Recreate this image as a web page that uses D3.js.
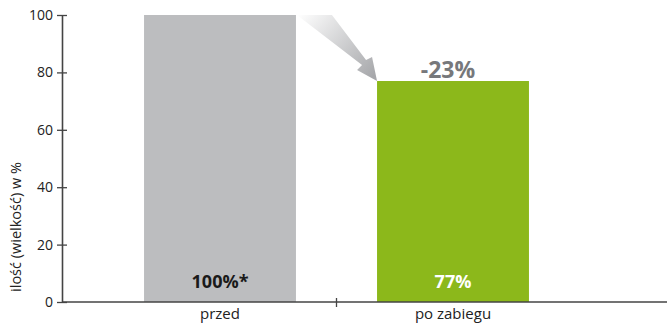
<!DOCTYPE html>
<html><head><meta charset="utf-8">
<script src="https://cdn.jsdelivr.net/npm/d3@7"></script>
<style>body{margin:0;background:#fff;}svg{display:block;font-family:"Open Sans",sans-serif;}</style>
</head><body>
<svg id="chart" width="667" height="323"></svg>
<script>
const categories = ["przed", "po zabiegu"];
const values = [100, 77];
const valueLabels = ["100%*", "77%"];
const changeLabel = "-23%";
const yTicks = [0, 20, 40, 60, 80, 100];
const yTitle = "ilość (wielkość) w %";
const barColors = ["#bcbdbf", "#8cb81b"];
const labelColors = ["#1a1a1a", "#ffffff"];

const svg = d3.select("#chart");
const axisX = 62, width = 667;
const y = d3.scaleLinear().domain([0, 100]).range([302, 15]);
const x = d3.scaleBand().domain(categories).range([103.5, 569.5]).paddingInner(0.348).paddingOuter(0.174);

const defs = svg.append("defs");
const grad = defs.append("linearGradient").attr("id", "ag")
  .attr("gradientUnits", "userSpaceOnUse")
  .attr("x1", 300).attr("y1", 12).attr("x2", 372).attr("y2", 78);
grad.append("stop").attr("offset", 0).attr("stop-color", "#ffffff");
grad.append("stop").attr("offset", 1).attr("stop-color", "#a7a8ab");

svg.selectAll("rect.bar").data(values).join("rect").attr("class", "bar")
  .attr("x", (d, i) => x(categories[i]))
  .attr("y", d => y(d))
  .attr("width", x.bandwidth())
  .attr("height", d => y(0) - y(d))
  .attr("fill", (d, i) => barColors[i]);

const x0 = x(categories[0]) + x.bandwidth(), y0 = y(values[0]);
const x1 = x(categories[1]), y1 = y(values[1]);
const pts = [
  [x0 + 1, y0], [x0 + 36, y0], [x1 - 11, y1 - 21], [x1 - 5, y1 - 24],
  [x1, y1], [x1 - 20, y1 - 11], [x1 - 15, y1 - 16]
];
svg.append("path").attr("d", d3.line()(pts) + "Z").attr("fill", "url(#ag)");

svg.selectAll("text.val").data(valueLabels).join("text").attr("class", "val")
  .attr("x", (d, i) => x(categories[i]) + x.bandwidth() / 2)
  .attr("y", y(0) - 14)
  .attr("text-anchor", "middle")
  .attr("font-size", 18).attr("font-weight", "bold")
  .attr("fill", (d, i) => labelColors[i])
  .text(d => d);

svg.append("text")
  .attr("x", x(categories[1]) + x.bandwidth() / 2 - 5)
  .attr("y", y(values[1]) - 3)
  .attr("text-anchor", "middle")
  .attr("font-size", 23).attr("font-weight", "bold")
  .attr("fill", "#77787b")
  .text(changeLabel);

const yAxis = svg.append("g").attr("transform", `translate(${axisX},0)`)
  .call(d3.axisLeft(y).tickValues(yTicks).tickSize(5).tickSizeOuter(0).tickPadding(4));
yAxis.select(".domain").attr("stroke", "#444").attr("stroke-width", 1.6);
yAxis.selectAll(".tick line").attr("x1", 5).attr("stroke", "#444").attr("stroke-width", 1.3);
yAxis.selectAll(".tick text").attr("font-size", 14).attr("fill", "#222").attr("font-family", "Open Sans, sans-serif");

svg.append("line").attr("x1", axisX).attr("x2", width).attr("y1", y(0)).attr("y2", y(0))
  .attr("stroke", "#444").attr("stroke-width", 1.6);
const mid = (x(categories[0]) + x.bandwidth() + x(categories[1])) / 2;
svg.append("line").attr("x1", mid).attr("x2", mid).attr("y1", y(0) - 4).attr("y2", y(0) + 5)
  .attr("stroke", "#444").attr("stroke-width", 1.3);
svg.selectAll("text.cat").data(categories).join("text").attr("class", "cat")
  .attr("x", d => x(d) + x.bandwidth() / 2)
  .attr("y", 319)
  .attr("text-anchor", "middle")
  .attr("font-size", 15).attr("fill", "#222")
  .text(d => d);

svg.append("text")
  .attr("transform", `translate(21,227) rotate(-90)`)
  .attr("text-anchor", "middle")
  .attr("font-size", 14.5).attr("fill", "#222")
  .text(yTitle);
</script>
</body></html>
